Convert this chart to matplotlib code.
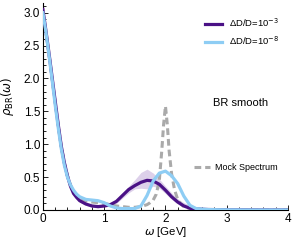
import matplotlib
matplotlib.use("Agg")
import matplotlib.pyplot as plt
from matplotlib.ticker import MultipleLocator

plt.rcParams['font.family'] = ['Liberation Sans', 'DejaVu Sans']
plt.rcParams['mathtext.fontset'] = 'dejavusans'

# --- data ---
omega = [0, 0.05, 0.1, 0.15, 0.2, 0.25, 0.3, 0.35, 0.4, 0.45, 0.5, 0.55, 0.6, 0.7, 0.8, 0.9,
         1.0, 1.1, 1.2, 1.3, 1.4, 1.5, 1.6, 1.7, 1.8, 1.9, 2.0, 2.1, 2.2, 2.3, 2.4, 2.5,
         2.7, 3.0, 3.5, 4.0]
rho_dd3 = [3.05, 2.72, 2.38, 2.02, 1.66, 1.30, 0.97, 0.72, 0.52, 0.36, 0.25, 0.19, 0.14, 0.09, 0.06, 0.05,
           0.06, 0.08, 0.13, 0.22, 0.31, 0.37, 0.42, 0.45, 0.44, 0.39, 0.30, 0.20, 0.12, 0.06, 0.025, 0.012,
           0.006, 0.003, 0.001, 0.0]
band_lo = [3.0, 2.67, 2.33, 1.97, 1.61, 1.26, 0.93, 0.69, 0.49, 0.34, 0.23, 0.17, 0.12, 0.07, 0.04, 0.03,
           0.04, 0.06, 0.10, 0.18, 0.26, 0.32, 0.33, 0.32, 0.36, 0.33, 0.25, 0.16, 0.09, 0.04, 0.015, 0.005,
           0.0, 0.0, 0.0, 0.0]
band_hi = [3.1, 2.77, 2.43, 2.07, 1.71, 1.34, 1.01, 0.75, 0.55, 0.39, 0.28, 0.21, 0.16, 0.11, 0.08, 0.07,
           0.08, 0.10, 0.16, 0.26, 0.36, 0.46, 0.57, 0.62, 0.56, 0.47, 0.36, 0.26, 0.17, 0.11, 0.07, 0.05,
           0.03, 0.012, 0.004, 0.0]

omega_b = [0, 0.05, 0.1, 0.15, 0.2, 0.25, 0.3, 0.35, 0.4, 0.45, 0.5, 0.55, 0.6, 0.7, 0.8, 0.9,
           1.0, 1.1, 1.2, 1.3, 1.4, 1.5, 1.6, 1.7, 1.8, 1.9, 2.0, 2.1, 2.2, 2.3, 2.4, 2.5,
           2.7, 3.0, 3.5, 4.0]
rho_dd8 = [3.0, 2.70, 2.35, 1.98, 1.60, 1.25, 0.93, 0.68, 0.50, 0.38, 0.30, 0.24, 0.20, 0.16, 0.15, 0.14,
           0.11, 0.06, 0.03, 0.02, 0.02, 0.02, 0.06, 0.22, 0.44, 0.56, 0.59, 0.52, 0.40, 0.21, 0.07, 0.02,
           0.005, 0.002, 0.0, 0.0]

omega_m = [0, 0.05, 0.1, 0.15, 0.2, 0.25, 0.3, 0.35, 0.4, 0.45, 0.5, 0.6, 0.7, 0.8, 0.9, 1.0, 1.1,
           1.2, 1.3, 1.4, 1.5, 1.6, 1.7, 1.75, 1.8, 1.85, 1.9, 1.94, 1.97, 2.0, 2.03, 2.06, 2.1,
           2.15, 2.2, 2.25, 2.3, 2.4, 2.5, 2.7, 3.0, 4.0]
rho_mock = [3.0, 2.70, 2.36, 2.0, 1.63, 1.28, 0.96, 0.71, 0.52, 0.38, 0.28, 0.18, 0.14, 0.12, 0.11, 0.10, 0.08,
            0.06, 0.05, 0.04, 0.04, 0.05, 0.08, 0.11, 0.15, 0.24, 0.45, 0.90, 1.30, 1.58, 1.30, 0.90, 0.55,
            0.30, 0.16, 0.09, 0.05, 0.02, 0.01, 0.0, 0.0, 0.0]

labels = [r"ΔD/D=10$^{-3}$", r"ΔD/D=10$^{-8}$", "Mock Spectrum"]

c_purple = "#4a1186"
c_blue = "#8ecdf4"
c_band = "#ddd0ea"
c_gray = "#aaaaaa"

fig = plt.figure(figsize=(3.0, 2.41), dpi=100)
ax = fig.add_axes([0.143, 0.129, 0.817, 0.859])

ax.fill_between(omega, band_lo, band_hi, color=c_band, lw=0, zorder=1)
l_mock, = ax.plot(omega_m, rho_mock, color=c_gray, lw=2.2, ls=(0, (2.2, 1.3)), zorder=2)
l3, = ax.plot(omega, rho_dd3, color=c_purple, lw=2.3, zorder=3)
l8, = ax.plot(omega_b, rho_dd8, color=c_blue, lw=2.3, zorder=4)

ax.set_xlim(0, 4)
ax.set_ylim(0, 3.15)
ax.xaxis.set_minor_locator(MultipleLocator(0.2))
ax.yaxis.set_minor_locator(MultipleLocator(0.1))
ax.tick_params(which='both', direction='in', labelsize=8.5, pad=2, width=0.6)
ax.tick_params(which='major', length=3.5)
ax.tick_params(which='minor', length=2)
ax.set_xticks([0, 1, 2, 3, 4])
ax.set_xticklabels(['0', '1', '2', '3', '4'])
ax.set_yticks([0, 0.5, 1.0, 1.5, 2.0, 2.5, 3.0])
ax.set_yticklabels(['0.0', '0.5', '1.0', '1.5', '2.0', '2.5', '3.0'])
for s in ['top', 'right']:
    ax.spines[s].set_visible(False)
for s in ['left', 'bottom']:
    ax.spines[s].set_linewidth(0.8)

ax.set_xlabel(r"$\omega$ [GeV]", fontsize=8.2, labelpad=0.5)
ax.set_ylabel(r"$\rho_{\rm BR}(\omega)$", fontsize=8.5, labelpad=2)
ax.yaxis.set_label_coords(-0.11, 0.55)

leg1 = ax.legend([l3, l8], labels[:2], loc='center left', bbox_to_anchor=(0.661, 0.86),
                 frameon=False, fontsize=6.8, handlelength=1.8, handletextpad=0.75,
                 labelspacing=0.55, borderpad=0, borderaxespad=0)
ax.add_artist(leg1)
ax.legend([l_mock], labels[2:], loc='center left', bbox_to_anchor=(0.615, 0.203),
          frameon=False, fontsize=6.5, handlelength=1.8, handletextpad=0.6,
          borderpad=0, borderaxespad=0)
ax.text(0.695, 0.515, "BR smooth", transform=ax.transAxes, fontsize=8, va='center', ha='left')

fig.savefig("out.png", dpi=100)
